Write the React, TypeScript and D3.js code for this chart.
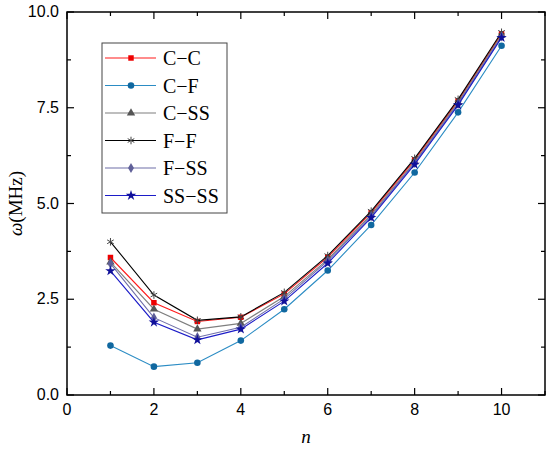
import * as d3 from 'd3';

const nValues = [1, 2, 3, 4, 5, 6, 7, 8, 9, 10];
const ccValues = [3.59, 2.41, 1.92, 2.03, 2.64, 3.6, 4.76, 6.14, 7.68, 9.43];
const cfValues = [1.29, 0.74, 0.84, 1.42, 2.24, 3.25, 4.44, 5.81, 7.38, 9.12];
const cssValues = [3.47, 2.24, 1.72, 1.87, 2.57, 3.54, 4.71, 6.09, 7.64, 9.4];
const ffValues = [4.0, 2.61, 1.95, 2.04, 2.68, 3.64, 4.8, 6.18, 7.72, 9.47];
const fssValues = [3.43, 2.02, 1.51, 1.77, 2.51, 3.5, 4.67, 6.06, 7.6, 9.36];
const ssssValues = [3.24, 1.9, 1.44, 1.72, 2.45, 3.44, 4.63, 6.02, 7.57, 9.33];

const xTicks = [0, 2, 4, 6, 8, 10];
const yTicks = [0, 2.5, 5, 7.5, 10];

interface Series {
  label: string;
  values: number[];
  line: string;
  marker: string;
  symbol: d3.SymbolType;
  size: number;
  stroke?: boolean;
}

const series: Series[] = [
  { label: 'C\u2212C', values: ccValues, line: '#ff1a1a', marker: '#ee0000', symbol: d3.symbolSquare, size: 30 },
  { label: 'C\u2212F', values: cfValues, line: '#2b8cc4', marker: '#1068a0', symbol: d3.symbolCircle, size: 34 },
  { label: 'C\u2212SS', values: cssValues, line: '#7f7f7f', marker: '#555555', symbol: d3.symbolTriangle, size: 30 },
  { label: 'F\u2212F', values: ffValues, line: '#000000', marker: '#444444', symbol: d3.symbolAsterisk, size: 40, stroke: true },
  { label: 'F\u2212SS', values: fssValues, line: '#6f6fa8', marker: '#5f5f98', symbol: d3.symbolDiamond, size: 30 },
  { label: 'SS\u2212SS', values: ssssValues, line: '#1c1cc8', marker: '#10109a', symbol: d3.symbolStar, size: 34 },
];

const margin = { top: 12, right: 5, bottom: 55, left: 67 };
const width = 550;
const height = 450;

export default function App() {
  const x = d3.scaleLinear().domain([0, 11]).range([margin.left, width - margin.right]);
  const y = d3.scaleLinear().domain([0, 10]).range([height - margin.bottom, margin.top]);
  const x0 = x.range()[0];
  const x1 = x.range()[1];
  const y0 = y.range()[0];
  const y1 = y.range()[1];

  const xMinor = d3.range(0, 12, 1);
  const yMinor = d3.range(0, 10.01, 1.25);

  const line = d3
    .line<number>()
    .x((_, i) => x(nValues[i]))
    .y(d => y(d));

  const sans = 'Liberation Sans, Arial, sans-serif';
  const serif = 'Liberation Serif, Times New Roman, serif';

  return (
    <div style={{ position: 'absolute', left: 0, top: 0 }}>
      <svg width={width} height={height} style={{ display: 'block', background: '#fff' }}>
        {/* ticks, pointing inward */}
        {xMinor.map(t => {
          const major = t % 2 === 0;
          const len = major ? 7 : 4;
          return (
            <g key={'xt' + t} stroke="#000" strokeWidth={1.2}>
              <line x1={x(t)} x2={x(t)} y1={y0} y2={y0 - len} />
              <line x1={x(t)} x2={x(t)} y1={y1} y2={y1 + len} />
            </g>
          );
        })}
        {yMinor.map(t => {
          const major = Math.round(t * 100) % 250 === 0;
          const len = major ? 7 : 4;
          return (
            <g key={'yt' + t} stroke="#000" strokeWidth={1.2}>
              <line x1={x0} x2={x0 + len} y1={y(t)} y2={y(t)} />
              <line x1={x1} x2={x1 - len} y1={y(t)} y2={y(t)} />
            </g>
          );
        })}
        <rect x={x0} y={y1} width={x1 - x0} height={y0 - y1} fill="none" stroke="#000" strokeWidth={1.5} />

        {xTicks.map(t => (
          <text key={'xl' + t} x={x(t)} y={y0 + 20} textAnchor="middle" fontFamily={sans} fontSize={16}>
            {t}
          </text>
        ))}
        {yTicks.map(t => (
          <text key={'yl' + t} x={x0 - 8} y={y(t) + 5} textAnchor="end" fontFamily={sans} fontSize={16}>
            {t.toFixed(1)}
          </text>
        ))}

        <text x={(x0 + x1) / 2} y={443} textAnchor="middle" fontFamily={serif} fontStyle="italic" fontSize={19}>
          n
        </text>
        <text
          transform={`translate(22,${(y0 + y1) / 2}) rotate(-90)`}
          textAnchor="middle"
          fontFamily={serif}
          fontSize={19}
        >
          <tspan fontStyle="italic">ω</tspan>
          <tspan>(MHz)</tspan>
        </text>

        {series.map(s => (
          <g key={s.label}>
            <path d={line(s.values) ?? ''} fill="none" stroke={s.line} strokeWidth={1.1} />
            {s.values.map((v, i) => (
              <path
                key={i}
                transform={`translate(${x(nValues[i])},${y(v)})`}
                d={d3.symbol(s.symbol, s.size)() ?? ''}
                fill={s.stroke ? 'none' : s.marker}
                stroke={s.stroke ? s.marker : 'none'}
                strokeWidth={1}
              />
            ))}
          </g>
        ))}

        {/* legend */}
        <g transform="translate(102,43)">
          <rect x={0} y={0} width={125} height={170} fill="#fff" stroke="#444" strokeWidth={1} />
          {series.map((s, i) => {
            const ly = 15 + i * 27.5;
            return (
              <g key={'lg' + s.label}>
                <line x1={3} x2={54} y1={ly} y2={ly} stroke={s.line} strokeWidth={1.1} />
                <path
                  transform={`translate(29,${ly})`}
                  d={d3.symbol(s.symbol, s.size)() ?? ''}
                  fill={s.stroke ? 'none' : s.marker}
                  stroke={s.stroke ? s.marker : 'none'}
                  strokeWidth={1}
                />
                <text x={61} y={ly + 7} fontFamily={serif} fontSize={20}>
                  {s.label}
                </text>
              </g>
            );
          })}
        </g>
      </svg>
    </div>
  );
}
